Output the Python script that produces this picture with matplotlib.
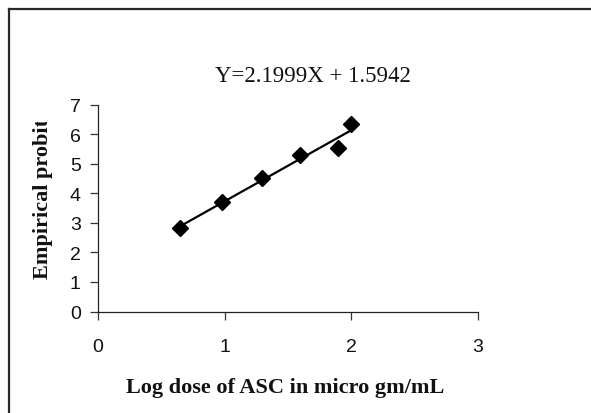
import numpy as np
import matplotlib
matplotlib.use("Agg")
import matplotlib.pyplot as plt
from matplotlib.lines import Line2D
from matplotlib.transforms import Bbox

# data
log_dose = [0.65, 0.98, 1.30, 1.60, 1.90, 2.00]
probit = [2.82, 3.70, 4.52, 5.28, 5.52, 6.34]
x_ticks = [0, 1, 2, 3]
y_ticks = [0, 1, 2, 3, 4, 5, 6, 7]
title_text = "Y=2.1999X + 1.5942"
x_label = "Log dose of ASC in micro gm/mL"
y_label = "Empirical probit"

W, H = 591, 414
fig = plt.figure(figsize=(W / 100, H / 100), dpi=100)
fig.patch.set_facecolor("white")

ax_l, ax_r, ax_t, ax_b = 98, 477.5, 105.5, 312.5
ax = fig.add_axes([ax_l / W, 1 - ax_b / H, (ax_r - ax_l) / W, (ax_b - ax_t) / H])

# trendline (least squares fit of the points)
slope, intercept = np.polyfit(log_dose, probit, 1)
xl = np.array([min(log_dose), max(log_dose)])
ax.plot(xl, slope * xl + intercept, color="black", lw=1.6, zorder=2)
ax.plot(log_dose, probit, linestyle="none", marker="D", ms=8.5,
        color="black", zorder=3)

ax.set_xlim(0, 3)
ax.set_ylim(0, 7)
ax.set_xticks(x_ticks)
ax.set_yticks(y_ticks)
for s in ["top", "right"]:
    ax.spines[s].set_visible(False)
for s in ["left", "bottom"]:
    ax.spines[s].set_color("#222222")
    ax.spines[s].set_linewidth(0.9)
ax.tick_params(direction="out", length=5.5, width=0.9, color="#333333",
               labelsize=14, labelcolor="#111111")
ax.tick_params(axis="x", pad=13.5)
ax.tick_params(axis="y", pad=7)
for lbl in ax.get_xticklabels() + ax.get_yticklabels():
    lbl.set_fontfamily("Liberation Sans")

fig.text(285 / W, 1 - 393 / H, x_label, ha="center", va="baseline",
         fontfamily="Liberation Serif", fontweight="bold", fontsize=16,
         color="#111111")
yl = fig.text(43 / W, 1 - 199 / H, y_label, ha="center", va="center",
              rotation=90, fontfamily="Liberation Serif", fontweight="bold",
              fontsize=16, color="#111111")
yl.set_clip_box(Bbox.from_extents(0, 0, W, H - 123))
yl.set_clip_on(True)
fig.text(312.5 / W, 1 - 82 / H, title_text, ha="center", va="baseline",
         fontfamily="Liberation Serif", fontsize=16.5, color="#111111")

# outer frame (left and top edges visible)
fig.add_artist(Line2D([8.5 / W, 8.5 / W], [0, 1 - 9.5 / H], color="#2a2a2a",
                      lw=1.6, transform=fig.transFigure))
fig.add_artist(Line2D([8.5 / W, 1], [1 - 9.5 / H, 1 - 9.5 / H], color="#2a2a2a",
                      lw=1.6, transform=fig.transFigure))

fig.savefig("out.png", dpi=100)
